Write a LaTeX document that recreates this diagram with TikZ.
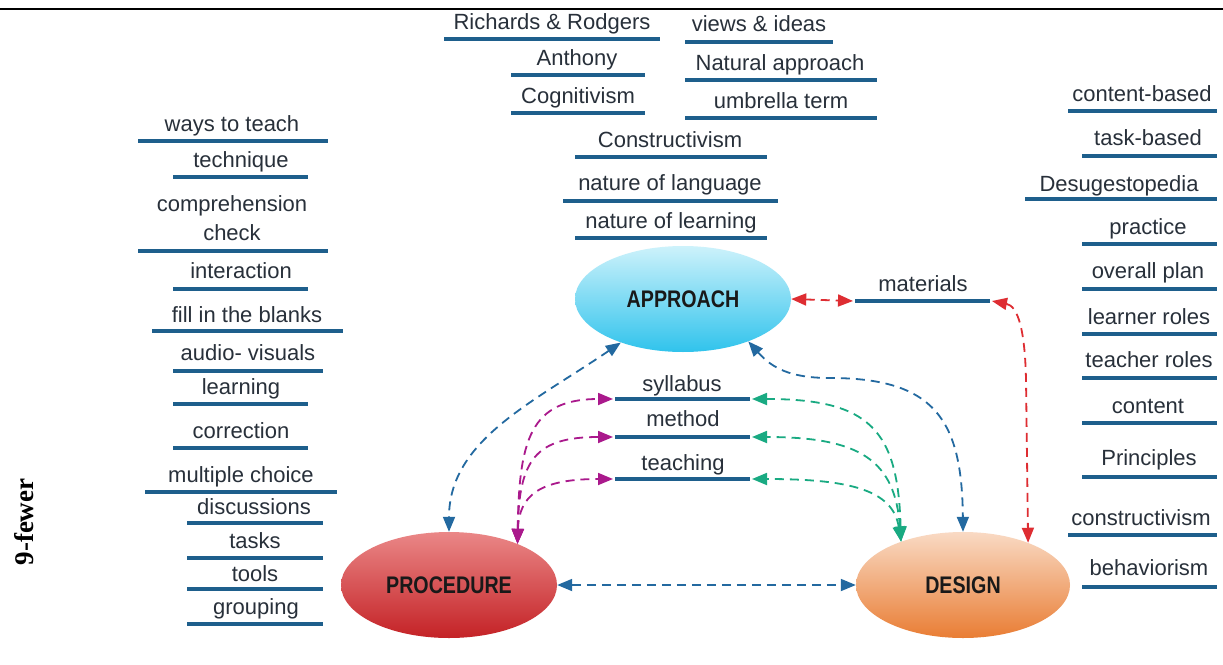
\documentclass[tikz,border=0pt]{standalone}
\usepackage{graphicx}
\usepackage{fontspec}
\setmainfont{Liberation Sans}
\newfontfamily\serifbold{Liberation Serif}
\usetikzlibrary{shapes.geometric,arrows.meta}
\definecolor{txt}{RGB}{40,48,58}
\definecolor{ul}{RGB}{30,95,140}
\definecolor{bl}{RGB}{35,105,160}
\definecolor{rd}{RGB}{222,45,50}
\definecolor{mg}{RGB}{170,25,140}
\definecolor{tl}{RGB}{25,170,130}
\tikzset{
  lbl/.style={font=\fontsize{22}{24}\selectfont, text=txt, anchor=base, inner sep=0pt},
  uline/.style={draw=ul, line width=3.3pt},
  ell/.style={ellipse, minimum width=216pt, minimum height=106pt, inner sep=0pt,
    font=\fontsize{24}{26}\selectfont\bfseries, text=black!90},
  con/.style={line width=1.8pt, dash pattern=on 9pt off 6pt},
  both/.style={{Triangle[length=15pt,width=12pt]}-{Triangle[length=15pt,width=12pt]}}
}
\begin{document}
\begin{tikzpicture}[x=1pt,y=-1pt]
\fill[white] (0,0) rectangle (1223,664);
\useasboundingbox (0,0) rectangle (1223,664);
\draw[black, line width=2pt] (0,9) -- (1223,9);

% side label
\node[rotate=90, font=\serifbold\bfseries\fontsize{27}{29}\selectfont, inner sep=0pt] (side) at (24,522) {9-fewer};

% ellipses
\node[ell, top color={rgb,255:red,205;green,242;blue,251}, bottom color={rgb,255:red,48;green,195;blue,236}] (approach) at (683,299) {\scalebox{0.82}[1]{APPROACH}};
\node[ell, top color={rgb,255:red,234;green,135;blue,135}, bottom color={rgb,255:red,196;green,34;blue,38}] (procedure) at (449,585) {\scalebox{0.82}[1]{PROCEDURE}};
\node[ell, minimum width=214pt, top color={rgb,255:red,249;green,218;blue,196}, bottom color={rgb,255:red,233;green,125;blue,52}] (design) at (963,585) {\scalebox{0.82}[1]{DESIGN}};

% top cluster
\node[lbl] (rr) at (552,29) {Richards \& Rodgers};  \draw[uline] (444,39) -- (660,39);
\node[lbl] (anth) at (577,65) {Anthony};           \draw[uline] (511,75) -- (645,75);
\node[lbl] (cogn) at (578,103) {Cognitivism};      \draw[uline] (511,113) -- (645,113);
\node[lbl] (views) at (759,31) {views \& ideas};   \draw[uline] (685,42) -- (833,42);
\node[lbl] (natap) at (780,70) {Natural approach}; \draw[uline] (685,80) -- (877,80);
\node[lbl] (umbr) at (781,108) {umbrella term};    \draw[uline] (685,118) -- (877,118);
\node[lbl] (cons) at (670,147) {Constructivism};   \draw[uline] (575,157) -- (767,157);
\node[lbl] (natlang) at (670,190) {nature of language}; \draw[uline] (563,201) -- (778,201);
\node[lbl] (natlearn) at (671,228) {nature of learning}; \draw[uline] (575,238) -- (767,238);

% left column
\node[lbl] (ways) at (232,131) {ways to teach};     \draw[uline] (138,141) -- (328,141);
\node[lbl] (tech) at (241,167) {technique};         \draw[uline] (173,177) -- (308,177);
\node[lbl] (comp1) at (232,211) {comprehension};
\node[lbl] (comp2) at (232,240) {check};            \draw[uline] (138,251) -- (328,251);
\node[lbl] (inter) at (241,278) {interaction};      \draw[uline] (173,289) -- (308,289);
\node[lbl] (fill) at (247,322) {fill in the blanks}; \draw[uline] (152,331) -- (343,331);
\node[lbl] (audio) at (248,360) {audio- visuals};   \draw[uline] (173,371) -- (323,371);
\node[lbl] (learn) at (241,394) {learning};         \draw[uline] (173,404) -- (308,404);
\node[lbl] (corr) at (241,438) {correction};        \draw[uline] (173,448) -- (308,448);
\node[lbl] (mult) at (241,482) {multiple choice};   \draw[uline] (145,492) -- (337,492);
\node[lbl] (disc) at (254,514) {discussions};       \draw[uline] (187,523) -- (323,523);
\node[lbl] (tasks) at (255,548) {tasks};            \draw[uline] (187,558) -- (323,558);
\node[lbl] (tools) at (255,581) {tools};            \draw[uline] (187,589) -- (323,589);
\node[lbl] (group) at (256,614) {grouping};         \draw[uline] (187,624) -- (323,624);

% right column
\node[lbl] (cb) at (1142,101) {content-based};      \draw[uline] (1068,111) -- (1217,111);
\node[lbl] (tb) at (1148,145) {task-based};         \draw[uline] (1082,156) -- (1217,156);
\node[lbl] (desu) at (1119,191) {Desugestopedia};   \draw[uline] (1025,199) -- (1217,199);
\node[lbl] (prac) at (1148,234) {practice};         \draw[uline] (1082,244) -- (1217,244);
\node[lbl] (plan) at (1148,278) {overall plan};     \draw[uline] (1082,289) -- (1217,289);
\node[lbl] (lrol) at (1149,324) {learner roles};    \draw[uline] (1082,334) -- (1217,334);
\node[lbl] (trol) at (1149,367) {teacher roles};    \draw[uline] (1082,378) -- (1217,378);
\node[lbl] (cont) at (1148,413) {content};          \draw[uline] (1082,423) -- (1217,423);
\node[lbl] (prin) at (1149,465) {Principles};       \draw[uline] (1082,477) -- (1217,477);
\node[lbl] (constr) at (1141,525) {constructivism}; \draw[uline] (1068,535) -- (1217,535);
\node[lbl] (behav) at (1149,575) {behaviorism};     \draw[uline] (1082,587) -- (1217,587);

% middle items
\coordinate (sylL) at (613,399); \coordinate (sylR) at (752,399);
\coordinate (metL) at (613,437); \coordinate (metR) at (752,437);
\coordinate (teaL) at (613,479); \coordinate (teaR) at (752,479);
\coordinate (matL) at (853,301); \coordinate (matR) at (992,301);
\node[lbl] (syl) at (682,391) {syllabus};  \draw[uline] (615,399) -- (750,399);
\node[lbl] (met) at (683,426) {method};    \draw[uline] (615,437) -- (750,437);
\node[lbl] (tea) at (683,470) {teaching};  \draw[uline] (615,479) -- (750,479);
\node[lbl] (mat) at (923,291) {materials}; \draw[uline] (855,301) -- (990,301);

% blue connectors
\draw[con, both, bl] (approach.215) .. controls (534,402) and (449,440) .. (procedure.north);
\draw[con, both, bl] (approach.327) .. controls (772,368) and (790,378) .. (830,378)
   .. controls (935,378) and (962,420) .. (design.north);
\draw[con, both, bl] (procedure.east) -- (design.west);

% red connectors
\draw[con, both, rd] (approach.east) -- (matL);
\draw[con, both, rd] (matR) .. controls (1018,306) and (1025,330) .. (1026,380) -- (design.33);

% magenta connectors
\draw[con, both, mg] (procedure.31) .. controls (519,440) and (530,399) .. (sylL);
\draw[con, both, mg] (procedure.31) .. controls (519,460) and (535,437) .. (metL);
\draw[con, both, mg] (procedure.31) .. controls (519,495) and (540,479) .. (teaL);

% teal connectors
\draw[con, both, tl] (design.145) .. controls (898,430) and (870,399) .. (sylR);
\draw[con, both, tl] (design.145) .. controls (895,460) and (860,437) .. (metR);
\draw[con, both, tl] (design.145) .. controls (893,490) and (850,479) .. (teaR);
\end{tikzpicture}
\end{document}
